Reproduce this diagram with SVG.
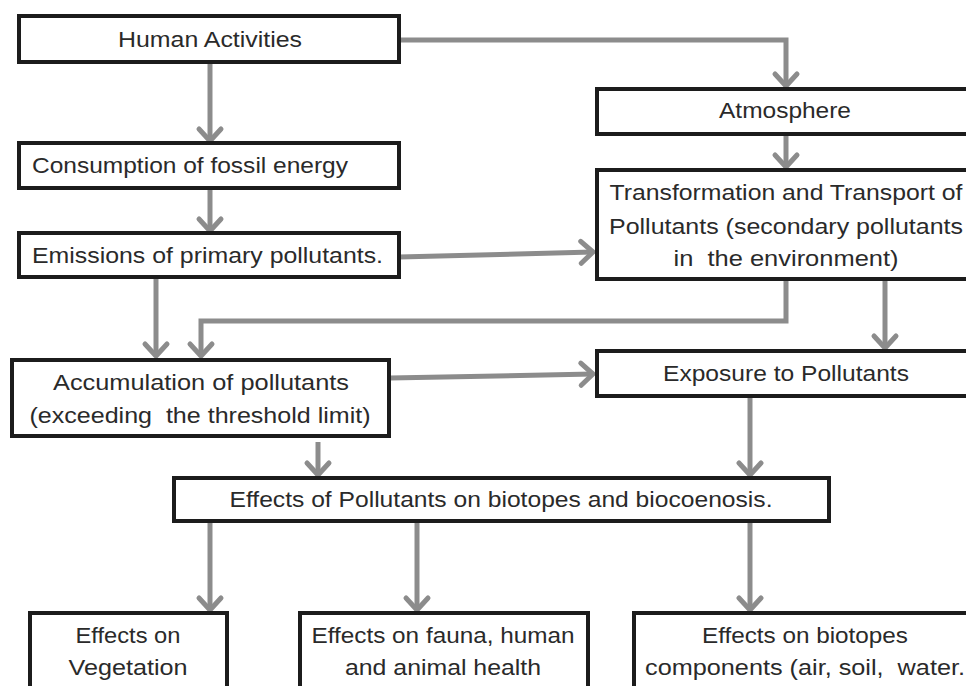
<svg xmlns="http://www.w3.org/2000/svg" width="966" height="686" viewBox="0 0 966 686">
<style>
.box{fill:#fff;stroke:#1c1c1c;stroke-width:4}
.t{font-family:"Liberation Sans",Arial,sans-serif;font-size:22px;fill:#2a2a2a;white-space:pre}
.c{text-anchor:middle}
.ar{fill:none;stroke:#8c8c8c;stroke-width:5;marker-end:url(#ah)}
</style>
<defs>
<marker id="ah" markerUnits="userSpaceOnUse" orient="auto" markerWidth="30" markerHeight="30" viewBox="-16 -15 20 30" refX="0" refY="0">
<path d="M-12,-11 L0,0 L-12,11" fill="none" stroke="#8c8c8c" stroke-width="5" stroke-linecap="round" stroke-linejoin="round"/>
</marker>
</defs>
<rect width="966" height="686" fill="#fff"/>
<g id="connectors">
<path class="ar" d="M210,62 V141"/>
<path class="ar" d="M210,188 V231"/>
<path class="ar" d="M399,40 H786 V86"/>
<path class="ar" d="M786,135 V167"/>
<path class="ar" d="M399,257 L593,252"/>
<path class="ar" d="M156,277 V356"/>
<path class="ar" d="M786,280 V321 H201 V356"/>
<path class="ar" d="M885,280 V348"/>
<path class="ar" d="M390,378 L593,374"/>
<path class="ar" d="M318,442 V475"/>
<path class="ar" d="M750,397 V475"/>
<path class="ar" d="M210,522 V610"/>
<path class="ar" d="M417,522 V610"/>
<path class="ar" d="M750,522 V610"/>
</g>
<g id="human">
<rect class="box" x="19" y="16" width="380" height="46"/>
<text class="t c" x="210" y="47" textLength="184" lengthAdjust="spacingAndGlyphs">Human Activities</text>
</g>
<g id="consumption">
<rect class="box" x="19" y="143" width="380" height="45"/>
<text class="t" x="32" y="173" textLength="316" lengthAdjust="spacingAndGlyphs">Consumption of fossil energy</text>
</g>
<g id="emissions">
<rect class="box" x="19" y="233" width="380" height="44"/>
<text class="t" x="32" y="263" textLength="351" lengthAdjust="spacingAndGlyphs">Emissions of primary pollutants.</text>
</g>
<g id="atmosphere">
<rect class="box" x="597" y="89" width="380" height="45"/>
<text class="t c" x="785" y="118" textLength="132" lengthAdjust="spacingAndGlyphs">Atmosphere</text>
</g>
<g id="transformation">
<rect class="box" x="597" y="170" width="380" height="109"/>
<text class="t c" x="786" y="200" textLength="353" lengthAdjust="spacingAndGlyphs">Transformation and Transport of</text>
<text class="t c" x="786" y="234" textLength="354" lengthAdjust="spacingAndGlyphs">Pollutants (secondary pollutants</text>
<text class="t c" x="786" y="266" textLength="225" lengthAdjust="spacingAndGlyphs" xml:space="preserve">in  the environment)</text>
</g>
<g id="accumulation">
<rect class="box" x="12" y="360" width="377" height="76"/>
<text class="t c" x="201" y="390" textLength="296" lengthAdjust="spacingAndGlyphs">Accumulation of pollutants</text>
<text class="t c" x="200" y="423" textLength="341" lengthAdjust="spacingAndGlyphs" xml:space="preserve">(exceeding  the threshold limit)</text>
</g>
<g id="exposure">
<rect class="box" x="597" y="351" width="380" height="45"/>
<text class="t c" x="786" y="381" textLength="246" lengthAdjust="spacingAndGlyphs">Exposure to Pollutants</text>
</g>
<g id="effects">
<rect class="box" x="174" y="478" width="655" height="43"/>
<text class="t c" x="501" y="507" textLength="543" lengthAdjust="spacingAndGlyphs">Effects of Pollutants on biotopes and biocoenosis.</text>
</g>
<g id="vegetation">
<rect class="box" x="30" y="613" width="197" height="90"/>
<text class="t c" x="128" y="643" textLength="105" lengthAdjust="spacingAndGlyphs">Effects on</text>
<text class="t c" x="128" y="675" textLength="119" lengthAdjust="spacingAndGlyphs">Vegetation</text>
</g>
<g id="fauna">
<rect class="box" x="300" y="613" width="288" height="90"/>
<text class="t c" x="443" y="643" textLength="263" lengthAdjust="spacingAndGlyphs">Effects on fauna, human</text>
<text class="t c" x="443" y="675" textLength="196" lengthAdjust="spacingAndGlyphs">and animal health</text>
</g>
<g id="biotopes">
<rect class="box" x="634" y="613" width="380" height="90"/>
<text class="t c" x="805" y="643" textLength="206" lengthAdjust="spacingAndGlyphs">Effects on biotopes</text>
<text class="t c" x="805" y="675" textLength="320" lengthAdjust="spacingAndGlyphs" xml:space="preserve">components (air, soil,  water.</text>
</g>
</svg>
